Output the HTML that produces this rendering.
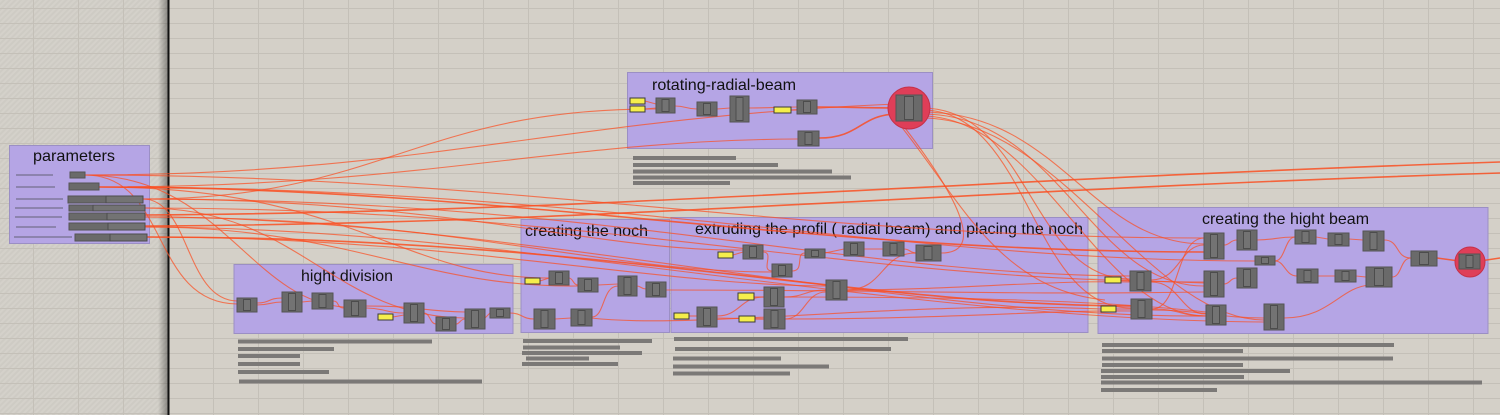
<!DOCTYPE html>
<html><head><meta charset="utf-8"><style>
html,body{margin:0;padding:0;background:#d4d0c8;overflow:hidden}
svg{display:block}
.g{fill:#b5a5e5;stroke:#9b8fc4;stroke-width:1}
.t{font-family:"Liberation Sans",Arial,sans-serif;font-size:16px;fill:#111}
.c{fill:#6a6a6a;stroke:#545454;stroke-width:1}
.ci{fill:#737373;stroke:#4c4c4c;stroke-width:1}
.y{fill:#f5ee4c;stroke:#3a3a3a;stroke-width:1}
.w{fill:none;stroke:#fb4f22;stroke-width:1.1;opacity:.72}
.wt{fill:none;stroke:#fb4a1c;stroke-width:1.6;opacity:.82}
.b{fill:#7b7977}
.l{fill:#8c83ae}
</style></head><body>
<svg width="1500" height="415" viewBox="0 0 1500 415" xmlns="http://www.w3.org/2000/svg">
<defs>
<pattern id="hatch" width="4" height="4" patternUnits="userSpaceOnUse" patternTransform="rotate(45)">
<rect width="4" height="4" fill="#cecbc4"/><rect width="2" height="4" fill="#d4d1ca"/>
</pattern>
<linearGradient id="sh" x1="0" x2="1" y1="0" y2="0">
<stop offset="0" stop-color="#000" stop-opacity="0"/><stop offset="1" stop-color="#000" stop-opacity="0.35"/>
</linearGradient>
<pattern id="gridv" width="45" height="415" patternUnits="userSpaceOnUse" x="33" y="0">
<rect x="0" y="0" width="1" height="415" fill="#c4c0b8"/>
</pattern>
<pattern id="gridh" width="1500" height="15" patternUnits="userSpaceOnUse" x="0" y="8">
<rect x="0" y="0" width="1500" height="1" fill="#c4c0b8"/>
</pattern>
</defs>
<rect width="1500" height="415" fill="#d4d0c8"/>
<rect width="168" height="415" fill="url(#hatch)"/>
<rect width="1500" height="415" fill="url(#gridv)"/>
<rect width="1500" height="415" fill="url(#gridh)"/>
<rect x="158" y="0" width="10" height="415" fill="url(#sh)"/>
<rect x="167.5" y="0" width="2" height="415" fill="#111"/>

<!-- groups -->
<rect class="g" x="9.5" y="145.5" width="140" height="98"/>
<rect class="g" x="627.5" y="72.5" width="305" height="76"/>
<rect class="g" x="234" y="264.5" width="279" height="69"/>
<rect class="g" x="521" y="219.5" width="148.5" height="113"/>
<rect class="g" x="671" y="217.5" width="417" height="115"/>
<rect class="g" x="1098" y="207.5" width="390" height="126"/>

<text class="t" x="33" y="161" textLength="82" lengthAdjust="spacingAndGlyphs">parameters</text>
<text class="t" x="652" y="90" textLength="144" lengthAdjust="spacingAndGlyphs">rotating-radial-beam</text>
<text class="t" x="301" y="281" textLength="92" lengthAdjust="spacingAndGlyphs">hight division</text>
<text class="t" x="525" y="236" textLength="123" lengthAdjust="spacingAndGlyphs">creating the noch</text>
<text class="t" x="695" y="234" textLength="388" lengthAdjust="spacingAndGlyphs">extruding the profil ( radial beam) and placing the noch</text>
<text class="t" x="1202" y="224" textLength="167" lengthAdjust="spacingAndGlyphs">creating the hight beam</text>

<!-- parameter labels -->
<rect class="l" x="16" y="174" width="37" height="2"/>
<rect class="l" x="16" y="186" width="39" height="2"/>
<rect class="l" x="16" y="198" width="47" height="2"/>
<rect class="l" x="15" y="207" width="48" height="2"/>
<rect class="l" x="15" y="216" width="47" height="2"/>
<rect class="l" x="16" y="226" width="40" height="2"/>
<rect class="l" x="14" y="236" width="58" height="2"/>

<!-- text bars -->
<g class="b">
<rect x="633" y="156" width="103" height="4"/><rect x="633" y="163" width="145" height="4"/><rect x="633" y="169.5" width="199" height="4"/><rect x="633" y="175.5" width="218" height="4"/><rect x="633" y="181" width="97" height="4"/>
<rect x="238" y="339.5" width="194" height="4"/><rect x="238" y="347" width="96" height="4"/><rect x="238" y="354" width="62" height="4"/><rect x="238" y="362" width="62" height="4"/><rect x="238" y="370" width="91" height="4"/><rect x="239" y="379.5" width="243" height="4"/>
<rect x="523" y="339" width="129" height="4"/><rect x="523" y="345.5" width="97" height="4"/><rect x="522" y="351" width="120" height="4"/><rect x="526" y="356.5" width="63" height="4"/><rect x="522" y="362" width="96" height="4"/>
<rect x="674" y="337" width="234" height="4"/><rect x="675" y="347" width="216" height="4"/><rect x="673" y="356.5" width="108" height="4"/><rect x="673" y="364.5" width="156" height="4"/><rect x="673" y="371.5" width="117" height="4"/>
<rect x="1102" y="343" width="292" height="4"/><rect x="1102" y="349" width="141" height="4"/><rect x="1102" y="356.5" width="291" height="4"/><rect x="1102" y="363" width="141" height="4"/><rect x="1101" y="369" width="189" height="4"/><rect x="1101" y="375" width="143" height="4"/><rect x="1101" y="380.5" width="381" height="4"/><rect x="1101" y="388" width="116" height="4"/>
</g>

<!-- wires -->
<g>
<path class="w" d="M143,199 C380,199 420,108 656,109"/>
<path class="w" d="M85,175 C420,175 560,118 896,104"/>
<path class="w" d="M99,187 C420,187 560,140 798,139"/>
<path class="wt" d="M145,215 C600,212 950,180 1500,162"/>
<path class="wt" d="M145,226 C600,224 950,190 1500,173"/>
<path class="w" d="M85,175 C170,175 150,303 237,304"/>
<path class="w" d="M143,199 C190,199 185,300 237,301"/>
<path class="w" d="M85,175 C220,175 250,300 344,307"/>
<path class="w" d="M145,208 C300,208 330,316 465,318"/>
<path class="w" d="M99,187 C350,187 400,278 549,278"/>
<path class="w" d="M145,227 C350,227 420,288 578,286"/>
<path class="w" d="M85,175 C500,175 800,238 1204,238"/>
<path class="wt" d="M99,187 C500,187 800,252 1204,252"/>
<path class="w" d="M143,199 C600,199 850,275 1130,276"/>
<path class="w" d="M145,208 C600,208 850,282 1204,282"/>
<path class="wt" d="M147,237 C600,237 850,305 1131,306"/>
<path class="w" d="M145,217 C500,217 900,318 1206,316"/>
<path class="w" d="M145,227 C500,227 900,320 1264,322"/>
<path class="w" d="M99,187 C600,187 900,261 1255,261"/>
<path class="w" d="M145,217 C450,217 600,272 772,272"/>
<path class="w" d="M143,199 C450,199 600,252 743,250"/>
<path class="w" d="M147,237 C450,237 650,285 826,286"/>

<path class="w" d="M645,101 L656,104"/>
<path class="w" d="M645,109 L656,108"/>
<path class="w" d="M675,106 C686,106 686,109 697,109"/>
<path class="w" d="M717,109 L730,108"/>
<path class="w" d="M749,108 C770,108 780,107 797,107"/>
<path class="w" d="M791,110 L797,110"/>
<path class="wt" d="M817,107 C860,107 860,108 896,108"/>
<path class="wt" d="M819,138 C860,138 860,115 896,114"/>

<path class="w" d="M922,108 C1030,108 1030,279 1130,279"/>
<path class="w" d="M922,110 C1030,110 1030,308 1131,308"/>
<path class="w" d="M922,112 C1060,112 1090,244 1204,244"/>
<path class="w" d="M922,114 C1060,114 1090,286 1204,286"/>
<path class="w" d="M922,116 C1040,116 1100,316 1206,316"/>
<path class="w" d="M922,118 C1060,118 1150,320 1264,320"/>
<path class="w" d="M941,253 C985,253 960,200 905,128"/>
<path class="w" d="M900,125 C960,200 1000,290 1105,300"/>

<path class="w" d="M257,305 C270,305 270,302 282,302"/>
<path class="w" d="M257,303 C270,303 268,298 282,298"/>
<path class="w" d="M302,302 L312,301"/>
<path class="w" d="M333,301 C340,301 336,308 344,308"/>
<path class="w" d="M366,308 C385,308 385,313 404,313"/>
<path class="w" d="M393,317 L404,315"/>
<path class="w" d="M424,313 C430,313 430,324 436,324"/>
<path class="w" d="M456,324 C460,324 460,319 465,319"/>
<path class="w" d="M366,306 C420,306 420,311 465,312"/>
<path class="w" d="M485,318 L490,313"/>
<path class="w" d="M510,313 C522,313 522,319 534,319"/>

<path class="w" d="M540,281 L549,278"/>
<path class="w" d="M569,278 C573,278 573,285 578,285"/>
<path class="w" d="M592,317 C605,317 602,286 618,286"/>
<path class="w" d="M598,285 L618,284"/>
<path class="w" d="M637,286 C641,286 641,289 646,289"/>
<path class="w" d="M555,319 L571,318"/>
<path class="w" d="M666,290 C900,290 1000,295 1204,292"/>
<path class="w" d="M591,318 C700,330 900,300 1101,309"/>

<path class="w" d="M733,255 L743,252"/>
<path class="w" d="M763,252 C775,252 760,271 772,271"/>
<path class="w" d="M792,271 C805,271 795,253 805,253"/>
<path class="w" d="M825,253 L844,249"/>
<path class="w" d="M864,249 L883,249"/>
<path class="w" d="M904,249 C910,249 910,253 916,253"/>
<path class="w" d="M689,316 L697,316"/>
<path class="w" d="M717,316 C740,316 740,297 764,297"/>
<path class="w" d="M717,318 L764,319"/>
<path class="w" d="M754,297 L764,297"/>
<path class="w" d="M755,319 L764,319"/>
<path class="w" d="M784,297 C805,297 805,290 826,290"/>
<path class="w" d="M785,319 C805,319 805,292 826,292"/>
<path class="w" d="M846,290 C885,290 880,253 916,253"/>
<path class="w" d="M846,290 C950,290 1050,280 1130,282"/>
<path class="w" d="M785,319 C950,319 1050,310 1131,311"/>
<path class="w" d="M784,297 C950,297 1100,300 1206,312"/>

<path class="w" d="M1121,280 L1130,280"/>
<path class="w" d="M1116,309 L1131,309"/>
<path class="w" d="M1151,280 C1180,280 1180,245 1204,245"/>
<path class="w" d="M1151,281 L1204,283"/>
<path class="w" d="M1151,282 C1180,282 1180,314 1206,314"/>
<path class="w" d="M1152,309 C1180,309 1175,238 1204,238"/>
<path class="w" d="M1152,309 C1180,309 1180,316 1206,316"/>
<path class="w" d="M1152,310 C1200,310 1220,318 1264,318"/>
<path class="w" d="M1224,245 C1230,245 1230,240 1237,240"/>
<path class="w" d="M1224,284 C1230,284 1230,278 1237,278"/>
<path class="w" d="M1257,240 C1275,240 1275,237 1295,237"/>
<path class="w" d="M1275,261 C1285,261 1285,237 1295,237"/>
<path class="w" d="M1275,261 C1285,261 1285,276 1297,276"/>
<path class="w" d="M1316,237 L1328,239"/>
<path class="w" d="M1349,239 L1363,240"/>
<path class="w" d="M1384,240 C1400,240 1395,258 1411,258"/>
<path class="w" d="M1318,276 L1335,276"/>
<path class="w" d="M1356,276 L1366,277"/>
<path class="w" d="M1392,277 C1402,277 1400,258 1411,258"/>
<path class="w" d="M1284,318 C1330,318 1340,287 1370,285"/>
<path class="wt" d="M1437,258 L1459,261"/>
<path class="wt" d="M1480,261 L1500,258"/>
</g>

<!-- parameter components -->
<rect class="c" x="70" y="172" width="15" height="6"/>
<rect class="c" x="69" y="183" width="30" height="7"/>
<rect class="c" x="68" y="196" width="75" height="7"/><rect class="ci" x="106" y="196" width="37" height="7"/>
<rect class="c" x="69" y="205" width="76" height="6"/><rect class="ci" x="93" y="205" width="52" height="6"/>
<rect class="c" x="69" y="213" width="76" height="7"/><rect class="ci" x="107" y="213" width="38" height="7"/>
<rect class="c" x="69" y="223" width="76" height="7"/><rect class="ci" x="108" y="223" width="37" height="7"/>
<rect class="c" x="75" y="234" width="72" height="7"/><rect class="ci" x="110" y="234" width="37" height="7"/>

<!-- rotating -->
<rect class="y" x="630" y="98" width="15" height="6"/>
<rect class="y" x="630" y="106" width="15" height="6"/>
<rect class="y" x="774" y="107" width="17" height="6"/>
<rect class="c" x="656" y="98" width="19" height="15"/><rect class="ci" x="662" y="99.5" width="7" height="12"/>
<rect class="c" x="697" y="102" width="20" height="14"/><rect class="ci" x="703.5" y="103.5" width="7" height="11"/>
<rect class="c" x="730" y="96" width="19" height="26"/><rect class="ci" x="736" y="97.5" width="7" height="23"/>
<rect class="c" x="797" y="100" width="20" height="14"/><rect class="ci" x="803.5" y="101.5" width="7" height="11"/>
<rect class="c" x="798" y="131" width="21" height="15"/><rect class="ci" x="805" y="132.5" width="7" height="12"/>
<circle cx="909" cy="108" r="21" fill="#df3e58" stroke="#c53049" stroke-width="1"/>
<rect class="c" x="896" y="95" width="26" height="26"/><rect class="ci" x="904.5" y="96.5" width="9" height="23"/>

<!-- hight division -->
<rect class="y" x="378" y="314" width="15" height="6"/>
<rect class="c" x="237" y="298" width="20" height="14"/><rect class="ci" x="243.5" y="299.5" width="7" height="11"/>
<rect class="c" x="282" y="292" width="20" height="20"/><rect class="ci" x="288.5" y="293.5" width="7" height="17"/>
<rect class="c" x="312" y="293" width="21" height="16"/><rect class="ci" x="319" y="294.5" width="7" height="13"/>
<rect class="c" x="344" y="300" width="22" height="17"/><rect class="ci" x="351.5" y="301.5" width="7" height="14"/>
<rect class="c" x="404" y="303" width="20" height="20"/><rect class="ci" x="410.5" y="304.5" width="7" height="17"/>
<rect class="c" x="436" y="317" width="20" height="14"/><rect class="ci" x="442.5" y="318.5" width="7" height="11"/>
<rect class="c" x="465" y="309" width="20" height="20"/><rect class="ci" x="471.5" y="310.5" width="7" height="17"/>
<rect class="c" x="490" y="308" width="20" height="10"/><rect class="ci" x="496.5" y="309.5" width="7" height="7"/>

<!-- noch -->
<rect class="y" x="525" y="278" width="15" height="6"/>
<rect class="c" x="549" y="271" width="20" height="14"/><rect class="ci" x="555.5" y="272.5" width="7" height="11"/>
<rect class="c" x="578" y="278" width="20" height="14"/><rect class="ci" x="584.5" y="279.5" width="7" height="11"/>
<rect class="c" x="618" y="276" width="19" height="20"/><rect class="ci" x="624" y="277.5" width="7" height="17"/>
<rect class="c" x="646" y="282" width="20" height="15"/><rect class="ci" x="652.5" y="283.5" width="7" height="12"/>
<rect class="c" x="534" y="309" width="21" height="20"/><rect class="ci" x="541" y="310.5" width="7" height="17"/>
<rect class="c" x="571" y="309" width="21" height="17"/><rect class="ci" x="578" y="310.5" width="7" height="14"/>

<!-- extruding -->
<rect class="y" x="718" y="252" width="15" height="6"/>
<rect class="y" x="738" y="293" width="16" height="7"/>
<rect class="y" x="674" y="313" width="15" height="6"/>
<rect class="y" x="739" y="316" width="16" height="6"/>
<rect class="c" x="743" y="245" width="20" height="14"/><rect class="ci" x="749.5" y="246.5" width="7" height="11"/>
<rect class="c" x="772" y="264" width="20" height="13"/><rect class="ci" x="778.5" y="265.5" width="7" height="10"/>
<rect class="c" x="805" y="249" width="20" height="9"/><rect class="ci" x="811.5" y="250.5" width="7" height="6"/>
<rect class="c" x="844" y="242" width="20" height="14"/><rect class="ci" x="850.5" y="243.5" width="7" height="11"/>
<rect class="c" x="883" y="242" width="21" height="14"/><rect class="ci" x="890" y="243.5" width="7" height="11"/>
<rect class="c" x="916" y="245" width="25" height="16"/><rect class="ci" x="924" y="246.5" width="8" height="13"/>
<rect class="c" x="826" y="280" width="21" height="20"/><rect class="ci" x="833" y="281.5" width="7" height="17"/>
<rect class="c" x="764" y="287" width="20" height="20"/><rect class="ci" x="770.5" y="288.5" width="7" height="17"/>
<rect class="c" x="697" y="307" width="20" height="20"/><rect class="ci" x="703.5" y="308.5" width="7" height="17"/>
<rect class="c" x="764" y="309" width="21" height="20"/><rect class="ci" x="771" y="310.5" width="7" height="17"/>

<!-- hight beam -->
<rect class="y" x="1105" y="277" width="16" height="6"/>
<rect class="y" x="1101" y="306" width="15" height="6"/>
<rect class="c" x="1130" y="271" width="21" height="20"/><rect class="ci" x="1137" y="272.5" width="7" height="17"/>
<rect class="c" x="1131" y="299" width="21" height="20"/><rect class="ci" x="1138" y="300.5" width="7" height="17"/>
<rect class="c" x="1204" y="233" width="20" height="26"/><rect class="ci" x="1210.5" y="234.5" width="7" height="23"/>
<rect class="c" x="1237" y="230" width="20" height="20"/><rect class="ci" x="1243.5" y="231.5" width="7" height="17"/>
<rect class="c" x="1204" y="271" width="20" height="26"/><rect class="ci" x="1210.5" y="272.5" width="7" height="23"/>
<rect class="c" x="1237" y="268" width="20" height="20"/><rect class="ci" x="1243.5" y="269.5" width="7" height="17"/>
<rect class="c" x="1255" y="256" width="20" height="9"/><rect class="ci" x="1261.5" y="257.5" width="7" height="6"/>
<rect class="c" x="1206" y="305" width="20" height="20"/><rect class="ci" x="1212.5" y="306.5" width="7" height="17"/>
<rect class="c" x="1264" y="304" width="20" height="26"/><rect class="ci" x="1270.5" y="305.5" width="7" height="23"/>
<rect class="c" x="1295" y="230" width="21" height="14"/><rect class="ci" x="1302" y="231.5" width="7" height="11"/>
<rect class="c" x="1328" y="233" width="21" height="13"/><rect class="ci" x="1335" y="234.5" width="7" height="10"/>
<rect class="c" x="1363" y="231" width="21" height="20"/><rect class="ci" x="1370" y="232.5" width="7" height="17"/>
<rect class="c" x="1297" y="269" width="21" height="14"/><rect class="ci" x="1304" y="270.5" width="7" height="11"/>
<rect class="c" x="1335" y="270" width="21" height="12"/><rect class="ci" x="1342" y="271.5" width="7" height="9"/>
<rect class="c" x="1366" y="267" width="26" height="20"/><rect class="ci" x="1374.5" y="268.5" width="9" height="17"/>
<rect class="c" x="1411" y="251" width="26" height="15"/><rect class="ci" x="1419.5" y="252.5" width="9" height="12"/>
<circle cx="1470" cy="262" r="15" fill="#df3e58" stroke="#c53049" stroke-width="1"/>
<rect class="c" x="1459" y="254" width="21" height="15"/><rect class="ci" x="1466" y="255.5" width="7" height="12"/>
</svg>
</body></html>
